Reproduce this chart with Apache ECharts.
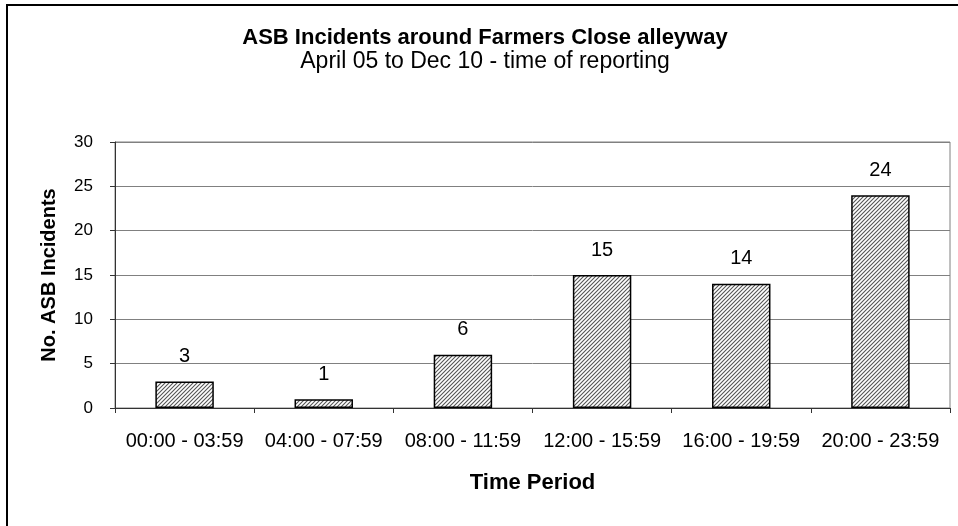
<!DOCTYPE html>
<html>
<head>
<meta charset="utf-8">
<script src="https://cdn.jsdelivr.net/npm/echarts@6/dist/echarts.min.js"></script>
<style>
  html, body { margin: 0; padding: 0; background: #fff; }
  #chart { width: 958px; height: 526px; }
</style>
</head>
<body>
<div id="chart"></div>
<script>
// 数据
const periods = ['00:00 - 03:59', '04:00 - 07:59', '08:00 - 11:59', '12:00 - 15:59', '16:00 - 19:59', '20:00 - 23:59']
const incidents = [3, 1, 6, 15, 14, 24]
const yTicks = [0, 5, 10, 15, 20, 25, 30]

// 斜线填充
function makeHatch() {
  const c = document.createElement('canvas')
  c.width = 4
  c.height = 4
  const ctx = c.getContext('2d')
  ctx.fillStyle = '#fff'
  ctx.fillRect(0, 0, 4, 4)
  ctx.strokeStyle = '#555'
  ctx.lineWidth = 1.1
  ctx.beginPath()
  ctx.moveTo(-1, 5); ctx.lineTo(5, -1)
  ctx.moveTo(-1, 1); ctx.lineTo(1, -1)
  ctx.moveTo(3, 5); ctx.lineTo(5, 3)
  ctx.stroke()
  return c
}

const font = '"Liberation Sans", Arial, sans-serif'
const chart = echarts.init(document.getElementById('chart'))
chart.setOption({
  animation: false,
  title: {
    text: 'ASB Incidents around Farmers Close alleyway',
    subtext: 'April 05 to Dec 10 - time of reporting',
    left: 480,
    textAlign: 'center',
    top: 22,
    itemGap: 1,
    textStyle: { fontFamily: font, fontSize: 22, fontWeight: 'bold', color: '#000' },
    subtextStyle: { fontFamily: font, fontSize: 23, color: '#000' }
  },
  grid: { left: 115, right: 8, top: 142, bottom: 118, show: true, borderColor: '#808080', borderWidth: 1 },
  xAxis: {
    type: 'category',
    data: periods,
    name: 'Time Period',
    nameLocation: 'middle',
    nameGap: 64,
    nameTextStyle: { fontFamily: font, fontSize: 22, fontWeight: 'bold', color: '#000' },
    axisLine: { lineStyle: { color: '#333', width: 1 } },
    axisTick: { show: true, length: 5, lineStyle: { color: '#333' } },
    axisLabel: { fontFamily: font, fontSize: 20, color: '#000', margin: 23, interval: 0 }
  },
  yAxis: {
    type: 'value',
    min: yTicks[0],
    max: yTicks[yTicks.length - 1],
    interval: 5,
    name: 'No. ASB Incidents',
    nameLocation: 'middle',
    nameGap: 56,
    nameTextStyle: { fontFamily: font, fontSize: 20, fontWeight: 'bold', color: '#000' },
    axisLine: { show: true, lineStyle: { color: '#333', width: 1 } },
    axisTick: { show: true, length: 5, lineStyle: { color: '#333' } },
    axisLabel: { fontFamily: font, fontSize: 17, color: '#000', margin: 22 },
    splitLine: { lineStyle: { color: '#808080', width: 1 } }
  },
  series: [{
    type: 'bar',
    data: incidents,
    barWidth: '42%',
    itemStyle: {
      color: { image: makeHatch(), repeat: 'repeat' },
      borderColor: '#000',
      borderWidth: 1.5
    },
    label: {
      show: true,
      position: 'top',
      distance: 15,
      fontFamily: font,
      fontSize: 20,
      color: '#000'
    }
  }],
  graphic: [{
    type: 'rect',
    shape: { x: 7, y: 5, width: 1000, height: 600 },
    style: { fill: 'none', stroke: '#000', lineWidth: 2 },
    silent: true
  }]
})
</script>
</body>
</html>
